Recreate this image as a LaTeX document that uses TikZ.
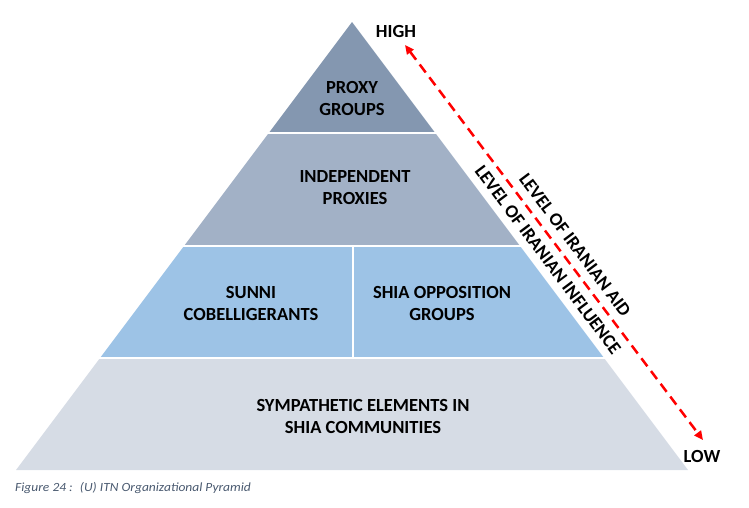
\documentclass[tikz,border=0pt]{standalone}
\usepackage{fontspec}
\setmainfont{Carlito}
\usetikzlibrary{arrows.meta}
\definecolor{layA}{HTML}{8497B0}
\definecolor{layB}{HTML}{A2B1C6}
\definecolor{layC}{HTML}{9DC3E6}
\definecolor{layD}{HTML}{D6DCE5}
\definecolor{capgray}{HTML}{4A5A70}
\begin{document}
\begin{tikzpicture}[x=1pt,y=-1pt,
  lbl/.style={font=\bfseries\fontsize{18.5}{22}\selectfont, align=center, text=black, inner sep=0pt},
  sep/.style={white, line width=2.5pt},
  axisarrow/.style={red, line width=2.5pt, dash pattern=on 10pt off 6pt, {Triangle[length=9pt,width=8pt]}-{Triangle[length=9pt,width=8pt]}}]
\useasboundingbox (0,0) rectangle (749,507);
% layers
\fill[layA] (352,22) -- (435.25,133) -- (268.75,133) -- cycle;
\fill[layB] (268.75,133) -- (435.25,133) -- (520,246) -- (184,246) -- cycle;
\fill[layC] (184,246) -- (520,246) -- (604,358) -- (100,358) -- cycle;
\fill[layD] (100,358) -- (604,358) -- (688,470) -- (16,470) -- cycle;
% separators
\draw[sep] (250,133) -- (455,133);
\draw[sep] (170,246) -- (535,246);
\draw[sep] (85,358) -- (620,358);
\draw[sep] (353,246) -- (353,358);
% layer labels
\node[lbl] (proxy) at (352,98) {PROXY\\GROUPS};
\node[lbl] (indep) at (355,188) {INDEPENDENT\\PROXIES};
\node[lbl] (sunni) at (251,303) {SUNNI\\COBELLIGERANTS};
\node[lbl] (shia) at (442,303) {SHIA OPPOSITION\\GROUPS};
\node[lbl] (symp) at (363,416) {SYMPATHETIC ELEMENTS IN\\SHIA COMMUNITIES};
% axis
\coordinate (hi) at (405,45);
\coordinate (lo) at (703,440);
\draw[axisarrow] (hi) -- (lo);
\node[lbl] (high) at (396,31) {HIGH};
\node[lbl] (low) at (702,456) {LOW};
\node[lbl, rotate=-53.13] (aid) at (575,245) {LEVEL OF IRANIAN AID};
\node[lbl, rotate=-53.13] (infl) at (548,260) {LEVEL OF IRANIAN INFLUENCE};
% caption
\node[anchor=west, inner sep=0pt, text=capgray, font=\itshape\fontsize{12.5}{14}\selectfont] (cap) at (15,488) {\scalebox{1.08}[1]{Figure 24 :~ (U) ITN Organizational Pyramid}};
\end{tikzpicture}
\end{document}
